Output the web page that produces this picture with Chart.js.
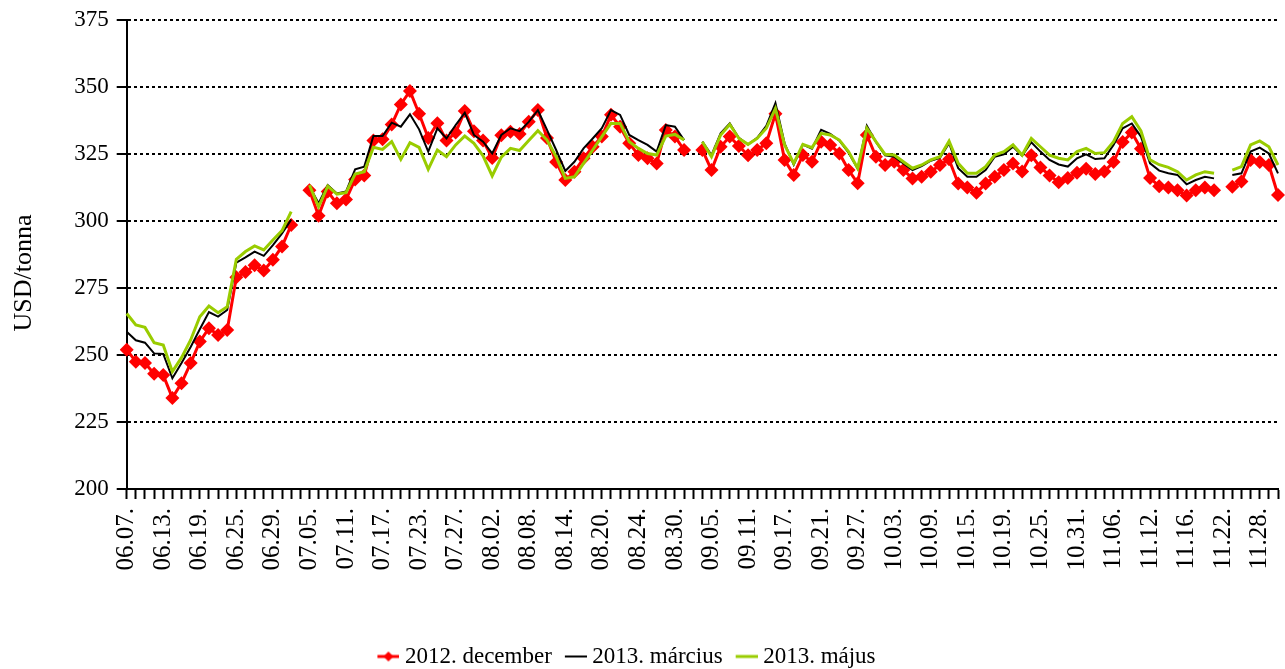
<!DOCTYPE html>
<html>
<head>
<meta charset="utf-8">
<script src="https://cdn.jsdelivr.net/npm/chart.js@4.4.0/dist/chart.umd.min.js"></script>
<style>
  html, body { margin: 0; padding: 0; background: #fff; }
  #wrap { width: 1285px; height: 669px; }
</style>
</head>
<body>
<div id="wrap"><canvas id="chart" width="1285" height="669"></canvas></div>
<script>
// trading days, 2012
const days = [
  '06.07.', '06.08.', '06.11.', '06.12.', '06.13.', '06.14.', '06.15.', '06.18.', '06.19.', '06.20.',
  '06.21.', '06.22.', '06.25.', '06.26.', '06.27.', '06.28.', '06.29.',
  '07.02.', '07.03.', '07.04.', '07.05.', '07.06.', '07.09.', '07.10.', '07.11.', '07.12.', '07.13.',
  '07.16.', '07.17.', '07.18.', '07.19.', '07.20.', '07.23.', '07.24.', '07.25.', '07.26.', '07.27.',
  '07.30.', '07.31.',
  '08.01.', '08.02.', '08.03.', '08.06.', '08.07.', '08.08.', '08.09.', '08.10.', '08.13.', '08.14.',
  '08.15.', '08.16.', '08.17.', '08.20.', '08.21.', '08.22.', '08.23.', '08.24.', '08.27.', '08.28.',
  '08.29.', '08.30.', '08.31.',
  '09.03.', '09.04.', '09.05.', '09.06.', '09.07.', '09.10.', '09.11.', '09.12.', '09.13.', '09.14.',
  '09.17.', '09.18.', '09.19.', '09.20.', '09.21.', '09.24.', '09.25.', '09.26.', '09.27.', '09.28.',
  '10.01.', '10.02.', '10.03.', '10.04.', '10.05.', '10.08.', '10.09.', '10.10.', '10.11.', '10.12.',
  '10.15.', '10.16.', '10.17.', '10.18.', '10.19.', '10.22.', '10.23.', '10.24.', '10.25.', '10.26.',
  '10.29.', '10.30.', '10.31.',
  '11.01.', '11.02.', '11.05.', '11.06.', '11.07.', '11.08.', '11.09.', '11.12.', '11.13.', '11.14.',
  '11.15.', '11.16.', '11.19.', '11.20.', '11.21.', '11.22.', '11.23.', '11.26.', '11.27.', '11.28.',
  '11.29.', '11.30.'
];

// USD/tonna, null = no quote (holiday)
const dec2012 = [
  252, 247.5, 247, 243, 242.5, 234, 239.5, 247, 255, 260, 257.5, 259.3, 279, 281, 283.5, 281.5, 285.5,
  290.5, 298.5, null, 311.5, 302, 311, 306.6, 308, 315.5, 317, 330, 330.5, 336, 343.5, 348.5, 340, 331, 336.5, 330, 333, 341, 333.5,
  330, 323.5, 332, 333.3, 332.5, 337, 341.4, 331, 322, 315.3, 318.4, 323.4, 327.7, 331.5, 339.6, 335.2, 329, 324.6, 323.4, 321.5, 334, 331.5, 326.5,
  null, 326.5, 319, 327.7, 331.5, 328, 324.5, 326.5, 329, 340, 322.8, 317.2, 324.6, 322.1, 329.6, 328.4, 325.2, 319, 314.1, 332.1,
  324, 320.9, 322.1, 319, 315.9, 316.5, 318.4, 320.9, 323, 314, 312.5, 310.5, 314, 316.5, 319, 321.5, 318.5, 324.5, 320, 317, 314.5, 316, 318,
  319.5, 317.5, 318.5, 322, 329.5, 333, 327, 316, 313, 312.5, 311.5, 309.5, 311.5, 312.5, 311.5, null, 312.8, 314.7, 322.8, 322, 320.9, 309.7
];
const mar2013 = [
  258.7, 255.5, 254.6, 250.6, 250.4, 241.3, 247, 253, 259.6, 266, 264.3, 266.8, 284.5, 286.4, 288.6, 287, 291,
  295.4, 300.5, null, 313, 306.6, 313.4, 310.3, 311, 319.3, 320.3, 331.7, 331.7, 336.7, 335.2, 339.8, 334.2, 325.9, 334.6, 330.8, 335.8, 340.4, 332.1,
  329.6, 325.2, 332.1, 334.6, 333.5, 337, 341.4, 334, 326.5, 318.7, 322.1, 327.1, 330.8, 334.6, 341.4, 339.6, 332.1, 330.2, 328.4, 325.9, 335.8, 335.2, 330.2,
  null, 329.6, 324.6, 332.7, 336.4, 331, 328.5, 331, 335.5, 344, 329, 321, 328.5, 327, 334, 332.5, 330, 325.5, 319.5, 335.5,
  329.5, 324.5, 324, 321.5, 319, 320.5, 322.5, 323.5, 329, 319.7, 316.5, 316.5, 319, 324, 324.9, 327.7, 324.4, 329.4, 325.9, 322.8, 321.1, 320.3, 323.4,
  324.9, 323.1, 323.4, 328.4, 334.6, 336.4, 331.5, 321.5, 318.8, 317.8, 317.2, 313.7, 315.3, 316.5, 315.9, null, 317.2, 317.8, 325.9, 327.4, 325.2, 317.8
];
const maj2013 = [
  265.5, 261.2, 260.3, 254.6, 253.7, 243.8, 249, 255.6, 264.3, 268.3, 265.8, 268, 285.7, 288.6, 290.7, 289.2, 292.9,
  296.4, 303.5, null, 313.4, 305.3, 313, 310, 310.6, 317.5, 318.4, 327.5, 326.7, 329.6, 323, 329.2, 327.5, 319.3, 326.5, 324, 328.4, 331.7, 329,
  324.3, 316.8, 323.8, 327.1, 326.3, 330, 333.7, 330.2, 324, 315.9, 316.5, 321.5, 326.5, 331.5, 336.4, 336.4, 329.6, 327.1, 325.2, 324.6, 331.7, 332.3, 330.2,
  null, 329.6, 324, 332.1, 336, 330.8, 328.6, 330.8, 334.6, 342, 328.4, 321.5, 328.6, 327.4, 332.7, 332.1, 330.2, 325.9, 319.7, 334.6,
  329.6, 324.9, 324.6, 322.1, 319.7, 320.9, 322.8, 324, 329.8, 321.5, 317.8, 317.8, 320.3, 324.6, 325.9, 328.4, 324.6, 330.8, 327.7, 324.6, 323.4, 322.8, 325.9,
  327.1, 325.2, 325.5, 329.6, 336.4, 338.9, 333.6, 322.8, 321, 320, 318.4, 315.3, 317.2, 318.4, 317.8, null, 319, 320.3, 328.4, 329.9, 327.7, 320.9
];

const seriesNames = ['2012. december', '2013. március', '2013. május'];
const yMin = 200;
const yMax = 375;
const yStep = 25;
const labelEvery = 4;

const FONT = "'Liberation Serif', 'Times New Roman', serif";
const RED = '#ff0000';
const GREEN = '#99cc00';

// small legend symbols (line, red one with a diamond)
function legendSymbol(color, width, diamond) {
  const c = document.createElement('canvas');
  c.width = 24;
  c.height = 14;
  const g = c.getContext('2d');
  g.strokeStyle = color;
  g.lineWidth = width;
  g.beginPath();
  g.moveTo(2, 7);
  g.lineTo(24, 7);
  g.stroke();
  if (diamond) {
    g.fillStyle = color;
    g.beginPath();
    g.moveTo(13, 2);
    g.lineTo(18, 7);
    g.lineTo(13, 12);
    g.lineTo(8, 7);
    g.closePath();
    g.fill();
  }
  return c;
}

const legendSymbols = [
  legendSymbol(RED, 3, true),
  legendSymbol('#000', 2, false),
  legendSymbol(GREEN, 3, false)
];

// nudge the legend to where the original sits
const legendShift = {
  id: 'legendShift',
  afterLayout(chart) {
    const lg = chart.legend;
    lg.left -= 13;
    lg.right -= 13;
    lg.top += 9;
    lg.bottom += 9;
  }
};

// rotated y axis title
const yTitle = {
  id: 'yTitle',
  afterDraw(chart) {
    const ctx = chart.ctx;
    ctx.save();
    ctx.translate(24, 273);
    ctx.rotate(-Math.PI / 2);
    ctx.font = '26px ' + FONT;
    ctx.fillStyle = '#000';
    ctx.textAlign = 'center';
    ctx.textBaseline = 'middle';
    ctx.fillText('USD/tonna', 0, 0);
    ctx.restore();
  }
};

const ctx = document.getElementById('chart').getContext('2d');

new Chart(ctx, {
  type: 'line',
  data: {
    labels: days,
    datasets: [
      {
        label: seriesNames[0],
        data: dec2012,
        borderColor: RED,
        backgroundColor: RED,
        borderWidth: 3,
        pointStyle: 'rectRot',
        pointRadius: 7,
        pointBorderWidth: 0,
        pointBackgroundColor: RED,
        order: 3
      },
      {
        label: seriesNames[1],
        data: mar2013,
        borderColor: '#000',
        backgroundColor: '#000',
        borderWidth: 2,
        pointRadius: 0,
        order: 2
      },
      {
        label: seriesNames[2],
        data: maj2013,
        borderColor: GREEN,
        backgroundColor: GREEN,
        borderWidth: 3,
        pointRadius: 0,
        order: 1
      }
    ]
  },
  options: {
    responsive: false,
    animation: false,
    devicePixelRatio: 1,
    spanGaps: false,
    layout: { padding: { left: 0, right: 2, top: 20, bottom: 0 } },
    elements: { line: { tension: 0 } },
    plugins: {
      tooltip: { enabled: false },
      legend: {
        position: 'bottom',
        labels: {
          color: '#000',
          font: { family: FONT, size: 23 },
          usePointStyle: true,
          pointStyleWidth: 12,
          padding: 17,
          generateLabels: (chart) => chart.data.datasets.map((ds, i) => ({
            text: ds.label,
            fillStyle: ds.borderColor,
            strokeStyle: ds.borderColor,
            lineWidth: 0,
            pointStyle: legendSymbols[i],
            hidden: false,
            datasetIndex: i
          }))
        }
      }
    },
    scales: {
      x: {
        type: 'category',
        offset: false,
        grid: {
          display: true,
          drawOnChartArea: false,
          drawTicks: true,
          tickLength: 10,
          tickWidth: 2,
          tickColor: '#000',
          offset: false
        },
        border: { display: true, color: '#000', width: 2 },
        ticks: {
          autoSkip: false,
          maxRotation: 90,
          minRotation: 90,
          padding: 9,
          color: '#000',
          font: { family: FONT, size: 25 },
          callback: (value, index) => (index % labelEvery === 0 ? days[index] : '')
        },
        afterFit: (scale) => {
          scale.height = 669 - 489 - scale.chart.legend.height;
          scale.paddingLeft = 0;
          scale.paddingRight = 0;
        }
      },
      y: {
        min: yMin,
        max: yMax,
        grid: {
          color: '#000',
          lineWidth: 2,
          tickLength: 10,
          tickColor: '#000',
          tickWidth: 2
        },
        border: { display: true, color: '#000', width: 2, dash: [3, 3] },
        ticks: {
          stepSize: yStep,
          padding: 8,
          color: '#000',
          font: { family: FONT, size: 23 }
        },
        afterFit: (scale) => {
          scale.width = 126.7;
          scale.paddingTop = 0;
          scale.paddingBottom = 0;
        }
      }
    }
  },
  plugins: [legendShift, yTitle]
});
</script>
</body>
</html>
